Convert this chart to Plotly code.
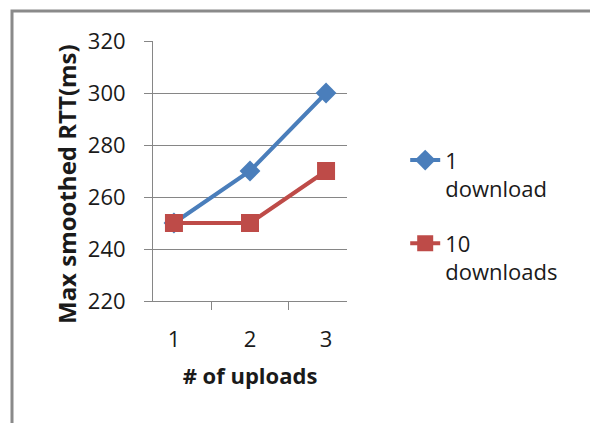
import plotly.graph_objects as go

categories = ["1", "2", "3"]
series_1_download = [250, 270, 300]
series_10_downloads = [250, 250, 270]
y_ticks = [220, 240, 260, 280, 300, 320]

FONT = "Open Sans"
GRID = "#868686"
TXT = "#1a1a1a"

fig = go.Figure()
fig.add_trace(go.Scatter(
    x=categories, y=series_1_download, name="1<br>download",
    legendgroup="a",
    mode="lines+markers",
    line=dict(color="#4A7EBB", width=4),
    marker=dict(symbol="diamond", size=16, color="#4A7EBB"),
))
fig.add_trace(go.Scatter(
    x=categories, y=series_10_downloads, name="10<br>downloads",
    legendgroup="b",
    mode="lines+markers",
    line=dict(color="#BE4B48", width=4),
    marker=dict(symbol="square", size=18, color="#BE4B48"),
))

fig.update_layout(
    width=590, height=423,
    margin=dict(l=153, r=243, t=41, b=122, autoexpand=False),
    paper_bgcolor="white", plot_bgcolor="white",
    font=dict(family=FONT, size=22, color=TXT),
    showlegend=True,
    legend=dict(
        x=1.30, y=0.622, xanchor="left", yanchor="top",
        valign="top", tracegroupgap=23, traceorder="grouped",
        font=dict(family=FONT, size=22, color=TXT),
        bgcolor="rgba(0,0,0,0)",
    ),
    xaxis=dict(
        type="category", tickson="boundaries",
        ticks="outside", ticklen=8, tickcolor=GRID,
        showline=True, linecolor=GRID, linewidth=1,
        showgrid=False, zeroline=False,
        tickfont=dict(size=22, color=TXT),
        ticklabelstandoff=19,
        title=dict(text="<b># of uploads</b>", font=dict(size=22, color=TXT), standoff=16),
    ),
    yaxis=dict(
        range=[220, 320], tickvals=y_ticks,
        ticks="outside", ticklen=8, tickcolor=GRID,
        showline=True, linecolor=GRID, linewidth=1,
        showgrid=True, gridcolor=GRID, gridwidth=1,
        zeroline=False,
        tickfont=dict(size=22, color=TXT),
        ticklabelstandoff=14,
    ),
    annotations=[
        dict(text="<b>Max smoothed RTT(ms)</b>", textangle=-90,
             xref="paper", yref="paper",
             x=(66 - 153) / 194, y=(301 - 184) / 260,
             xanchor="center", yanchor="middle", showarrow=False,
             font=dict(size=24, color=TXT)),
    ],
    shapes=[
        dict(type="rect", xref="paper", yref="paper",
             x0=(12 - 153) / 194, x1=(600 - 153) / 194,
             y0=(301 - 440) / 260, y1=(301 - 11) / 260,
             line=dict(color="#8a8a8a", width=3), layer="below"),
    ],
)

fig.write_html(
    "out.html",
    config={"displayModeBar": False},
    post_script="document.body.style.margin='0';document.body.style.overflow='hidden';",
)
